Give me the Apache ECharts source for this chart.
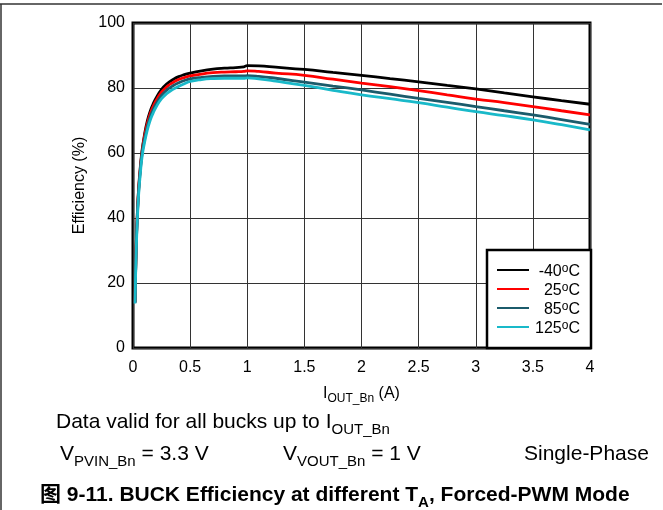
<!DOCTYPE html>
<html><head><meta charset="utf-8">
<script src="https://cdn.jsdelivr.net/npm/echarts@6/dist/echarts.min.js"></script>
<style>html,body{margin:0;padding:0;background:#fff}#c{width:663px;height:510px}</style>
</head><body><div id="c"></div>
<script>
// Output current (A)
const iout = [0.018,0.022,0.03,0.04,0.05,0.065,0.08,0.1,0.125,0.15,0.175,0.2,0.25,0.3,0.35,0.4,0.45,0.5,0.6,0.7,0.8,0.9,0.97,1.0,1.1,1.25,1.5,1.75,2,2.25,2.5,2.75,3,3.25,3.5,3.75,4];
// Efficiency (%) per ambient temperature
const effM40 = [14,22,34,43,49.5,56,61,65.5,69.8,72.8,75,76.8,79.6,81.4,82.6,83.5,84.1,84.6,85.3,85.8,86.1,86.3,86.5,86.9,86.8,86.4,85.7,84.8,83.9,82.9,81.9,80.8,79.7,78.5,77.3,76.1,75];
const eff25  = [14,22,33.5,42.5,49,55.5,60.5,65,69,72,74.2,76,78.7,80.5,81.7,82.6,83.2,83.7,84.3,84.7,84.9,85.0,85.1,85.3,85.1,84.6,83.9,82.7,81.5,80.4,79.2,77.9,76.6,75.5,74.3,73.0,71.7];
const eff85  = [14,21.5,33,42,48.5,55,60,64,68,71,73.2,75,77.7,79.5,80.7,81.6,82.3,82.8,83.3,83.6,83.7,83.7,83.7,83.8,83.6,83.0,81.8,80.6,79.4,78.1,76.8,75.6,74.3,73.0,71.7,70.3,68.8];
const eff125 = [13.7,21,32,41,47.5,54,59,63,67,70,72.2,74,76.7,78.4,79.6,80.5,81.3,82.0,82.6,82.9,83.0,83.0,83.0,83.1,82.8,82.1,80.8,79.3,77.9,76.7,75.5,74.1,72.7,71.5,70.2,68.7,67.1];
const tempNames = ['-40','25','85','125'];
const xTicks = [0,0.5,1,1.5,2,2.5,3,3.5,4];
const yTicks = [0,20,40,60,80,100];

const FF = "'Liberation Sans', Arial, 'Noto Sans CJK SC', sans-serif";
const colors = ['#000000','#ff0000','#1b5b6b','#19b9c9'];
const effSets = [effM40, eff25, eff85, eff125];

const chart = echarts.init(document.getElementById('c'), null, {renderer:'canvas'});
const mainRich = {
  m: {fontSize:21, fontFamily:FF, lineHeight:21, verticalAlign:'top', color:'#000'},
  s: {fontSize:15, fontFamily:FF, lineHeight:15, padding:[10,0,0,0], verticalAlign:'top', color:'#000'},
  b: {fontSize:21, fontFamily:FF, fontWeight:'bold', lineHeight:21, verticalAlign:'top', color:'#000'},
  bs: {fontSize:15, fontFamily:FF, fontWeight:'bold', lineHeight:15, padding:[10,0,0,0], verticalAlign:'top', color:'#000'}
};
function txt(x, y, text) {
  return {type:'text', x:x, y:y, z:100, style:{text:text, rich:mainRich, verticalAlign:'top', fill:'#000'}};
}
const option = {
  backgroundColor:'#fff',
  animation:false,
  grid:{left:133, right:73, top:23, bottom:162, show:true, borderColor:'#000', borderWidth:3, backgroundColor:'transparent'},
  xAxis:{
    type:'value', min:0, max:4, interval:0.5,
    axisLine:{show:false}, axisTick:{show:false},
    splitLine:{show:true, lineStyle:{color:'#333', width:1}},
    axisLabel:{fontSize:16, fontFamily:FF, color:'#000', margin:12,
      formatter: v => String(xTicks.find(t => Math.abs(t - v) < 1e-9) ?? v)},
    name:'{m|I}{s|OUT_Bn}{m| (A)}', nameLocation:'middle', nameGap:38,
    nameTextStyle:{rich:{
      m:{fontSize:16, fontFamily:FF, lineHeight:16, verticalAlign:'top', color:'#000'},
      s:{fontSize:12, fontFamily:FF, lineHeight:12, padding:[7,0,0,0], verticalAlign:'top', color:'#000'}
    }}
  },
  yAxis:{
    type:'value', min:0, max:100, interval:20,
    axisLine:{show:false}, axisTick:{show:false},
    splitLine:{show:true, lineStyle:{color:'#333', width:1}},
    axisLabel:{fontSize:16, fontFamily:FF, color:'#000', margin:8,
      formatter: v => String(yTicks.find(t => t === v) ?? v)},
    name:'Efficiency (%)', nameLocation:'middle', nameGap:45,
    nameTextStyle:{fontSize:16, fontFamily:FF, color:'#000'}
  },
  legend:{
    orient:'vertical', left:487, top:250,
    padding:[12,11,11,9], itemGap:1, itemWidth:32, itemHeight:14,
    backgroundColor:'#fff', borderColor:'#000', borderWidth:2.5,
    data: tempNames,
    itemStyle:{color:'rgba(0,0,0,0)', borderWidth:0, opacity:0},
    formatter: n => '{t|' + n + '}{o|o}{t|C}',
    textStyle:{width:46, fontSize:16, fontFamily:FF, color:'#000',
      rich:{
        t:{fontSize:16, fontFamily:FF, lineHeight:16, padding:[2,0,0,0], align:'right', verticalAlign:'top', color:'#000'},
        o:{fontSize:12, fontFamily:FF, lineHeight:8, padding:[1,0,0,0], align:'right', verticalAlign:'top', color:'#000'}
      }}
  },
  series: tempNames.map((n, i) => ({
    name:n, type:'line', symbol:'none', smooth:0.5,
    lineStyle:{color:colors[i], width:2.8}, itemStyle:{color:colors[i]},
    data: iout.map((x, k) => [x, effSets[i][k]]),
    z: 2 + i
  })),
  graphic:[
    {type:'line', shape:{x1:0, y1:4, x2:662, y2:4}, style:{stroke:'#333', lineWidth:1.5}},
    {type:'line', shape:{x1:1, y1:4, x2:1, y2:510}, style:{stroke:'#333', lineWidth:1.5}},
    txt(56, 412, '{m|Data valid for all bucks up to I}{s|OUT_Bn}'),
    txt(60, 444, '{m|V}{s|PVIN_Bn}{m| = 3.3 V}'),
    txt(283, 444, '{m|V}{s|VOUT_Bn}{m| = 1 V}'),
    txt(524, 444, '{m|Single-Phase}'),
    txt(40, 485, '{b|图 9-11. BUCK Efficiency at different T}{bs|A}{b|, Forced-PWM Mode}')
  ]
};
chart.setOption(option);
</script></body></html>
